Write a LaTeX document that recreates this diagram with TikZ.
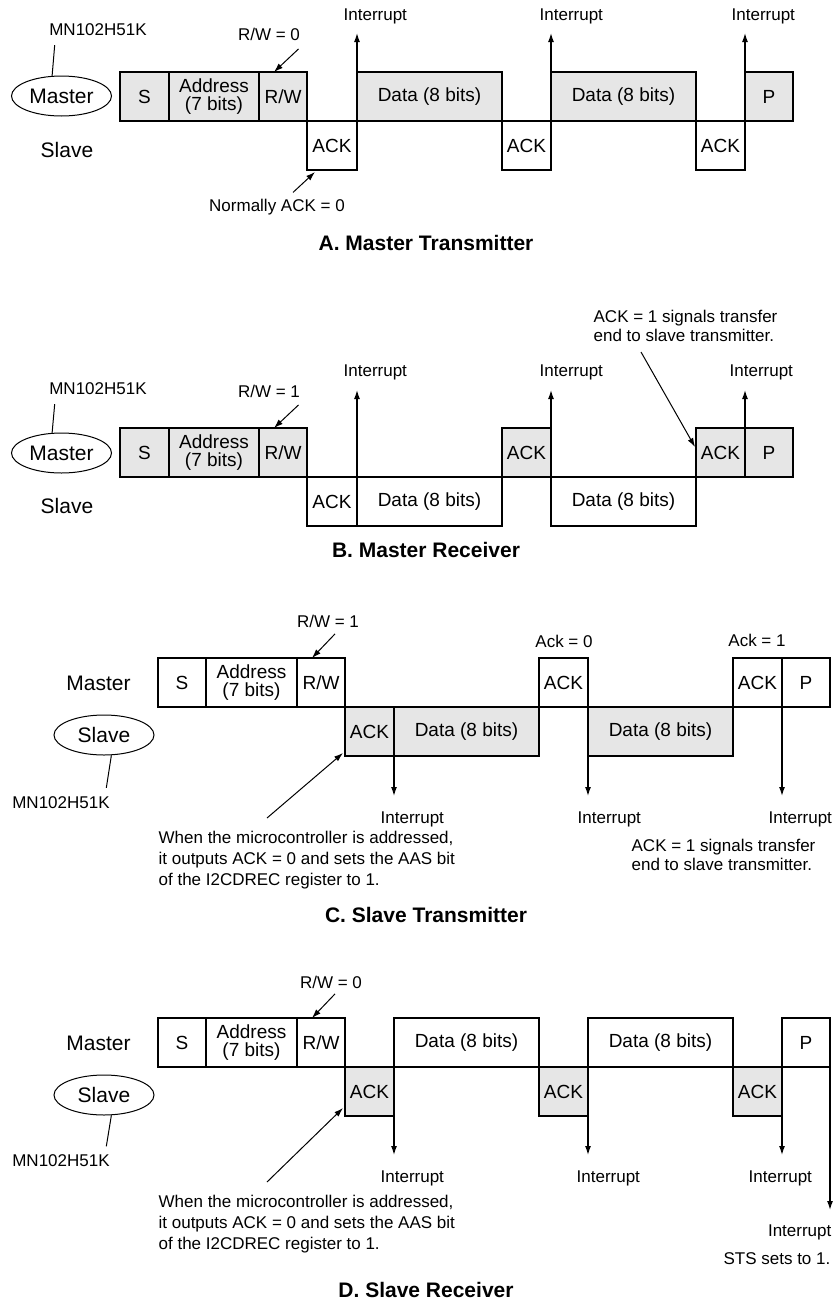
\documentclass[tikz,border=0pt]{standalone}
\usepackage{fontspec}
\setmainfont{Liberation Sans}
\usetikzlibrary{positioning, arrows.meta, shapes.geometric}
\definecolor{cellgray}{RGB}{230,230,230}

\begin{document}
\begin{tikzpicture}[
    x=1pt, y=-1pt,
    line width=1.3pt,
    >={Latex[length=9pt, width=6pt]},
    cell/.style={draw, minimum height=49pt, inner sep=0pt, outer sep=0pt, align=center, font=\fontsize{19}{18}\selectfont},
    gcell/.style={cell, fill=cellgray},
    chip/.style={draw, ellipse, line width=1pt, minimum width=100pt, minimum height=40pt, inner sep=0pt, font=\fontsize{21}{24}\selectfont},
    role/.style={inner sep=0pt, font=\fontsize{21}{24}\selectfont},
    lbl/.style={inner sep=0pt, font=\fontsize{17}{19}\selectfont},
    note/.style={inner sep=0pt, align=left, font=\fontsize{17}{20.7}\selectfont},
    endnote/.style={inner sep=0pt, align=left, font=\fontsize{17}{18.7}\selectfont},
    ttl/.style={inner sep=0pt, font=\bfseries\fontsize{21}{24}\selectfont},
    ptr/.style={->, line width=1pt}
]
\useasboundingbox (0,0) rectangle (838,1304);

% ================= A. Master Transmitter =================

% Frame: master row on top, slave ACKs below
\node[gcell, minimum width=49pt, anchor=north west] (aS) at (120,72) {S};
\node[gcell, minimum width=90pt, right=0pt of aS] (aAddr) {Address\\(7 bits)};
\node[gcell, minimum width=48pt, right=0pt of aAddr] (aRW) {R/W};
\node[cell, minimum width=50pt, below right=0pt of aRW] (aA1) {ACK};
\node[gcell, minimum width=145pt, above right=0pt of aA1] (aD1) {Data (8 bits)};
\node[cell, minimum width=49pt, below right=0pt of aD1] (aA2) {ACK};
\node[gcell, minimum width=145pt, above right=0pt of aA2] (aD2) {Data (8 bits)};
\node[cell, minimum width=49pt, below right=0pt of aD2] (aA3) {ACK};
\node[gcell, minimum width=48pt, above right=0pt of aA3] (aP) {P};

% Roles
\node[chip] (aChip) at (61.5,96) {Master};
\node[lbl] (aMN) at (98,29.5) {MN102H51K};
\node[role] (aSlave) at (67,150) {Slave};

% Labels
\node[lbl] (aR0) at (269,34) {R/W = 0};
\node[lbl] (aN0) at (277,207) {Normally ACK = 0};
\node[lbl, anchor=south west] (aI1) at (343,25) {Interrupt};
\node[lbl, anchor=south west] (aI2) at (539,25) {Interrupt};
\node[lbl, anchor=south west] (aI3) at (731,25) {Interrupt};
\node[ttl] (aTitle) at (426,243) {A. Master Transmitter};

% Edges
\draw[line width=1pt] (aChip.115) -- ([shift={(6pt,-9pt)}]aMN.south west);
\draw[ptr] ([shift={(-2pt,-8pt)}]aR0.south east) -- ([xshift=-9pt]aRW.north);
\draw[ptr] ([shift={(16pt,6pt)}]aN0.north) -- ([shift={(8pt,-2pt)}]aA1.south west);
\draw[->, shorten >=8pt] (aA1.south east) -- (aA1.south east |- aI1.south);
\draw[->, shorten >=8pt] (aA2.south east) -- (aA2.south east |- aI2.south);
\draw[->, shorten >=8pt] (aA3.south east) -- (aA3.south east |- aI3.south);

% ================= B. Master Receiver =================

\node[gcell, minimum width=49pt, anchor=north west] (bS) at (120,428) {S};
\node[gcell, minimum width=90pt, right=0pt of bS] (bAddr) {Address\\(7 bits)};
\node[gcell, minimum width=48pt, right=0pt of bAddr] (bRW) {R/W};
\node[cell, minimum width=50pt, below right=0pt of bRW] (bA1) {ACK};
\node[cell, minimum width=145pt, right=0pt of bA1] (bD1) {Data (8 bits)};
\node[gcell, minimum width=49pt, above right=0pt of bD1] (bK1) {ACK};
\node[cell, minimum width=145pt, below right=0pt of bK1] (bD2) {Data (8 bits)};
\node[gcell, minimum width=49pt, above right=0pt of bD2] (bK2) {ACK};
\node[gcell, minimum width=48pt, right=0pt of bK2] (bP) {P};

% Roles
\node[chip] (bChip) at (61.5,453) {Master};
\node[lbl] (bMN) at (98,388.5) {MN102H51K};
\node[role] (bSlave) at (67,505.5) {Slave};

% Labels
\node[lbl] (bR1) at (269,391) {R/W = 1};
\node[endnote, anchor=north west] (bEnd) at (593,310) {ACK = 1 signals transfer\\end to slave transmitter.};
\node[lbl, anchor=south west] (bI1) at (343,381) {Interrupt};
\node[lbl, anchor=south west] (bI2) at (539,381) {Interrupt};
\node[lbl, anchor=south west] (bI3) at (729,381) {Interrupt};
\node[ttl] (bTitle) at (426,550) {B. Master Receiver};

% Edges
\draw[line width=1pt] (bChip.115) -- ([shift={(6pt,-9pt)}]bMN.south west);
\draw[ptr] ([shift={(-2pt,-7pt)}]bR1.south east) -- ([xshift=-9pt]bRW.north);
\draw[ptr] ([shift={(48pt,-42pt)}]bEnd.north west) -- ([shift={(-1pt,-19pt)}]bK2.north west);
\draw[->, shorten >=9pt] (bA1.south east) -- (bA1.south east |- bI1.south);
\draw[->, shorten >=9pt] (bD2.south west) -- (bD2.south west |- bI2.south);
\draw[->, shorten >=9pt] (bK2.south east) -- (bK2.south east |- bI3.south);

% ================= C. Slave Transmitter =================

\node[cell, minimum width=48pt, anchor=north west] (cS) at (158,658) {S};
\node[cell, minimum width=91pt, right=0pt of cS] (cAddr) {Address\\(7 bits)};
\node[cell, minimum width=48pt, right=0pt of cAddr] (cRW) {R/W};
\node[gcell, minimum width=49pt, below right=0pt of cRW] (cA1) {ACK};
\node[gcell, minimum width=145pt, right=0pt of cA1] (cD1) {Data (8 bits)};
\node[cell, minimum width=49pt, above right=0pt of cD1] (cK1) {ACK};
\node[gcell, minimum width=145pt, below right=0pt of cK1] (cD2) {Data (8 bits)};
\node[cell, minimum width=49pt, above right=0pt of cD2] (cK2) {ACK};
\node[cell, minimum width=48pt, right=0pt of cK2] (cP) {P};

% Roles
\node[role] (cMaster) at (98.5,683.5) {Master};
\node[chip] (cChip) at (104,735) {Slave};
\node[lbl] (cMN) at (61,802.5) {MN102H51K};

% Labels
\node[lbl] (cR1) at (328,621) {R/W = 1};
\node[lbl] (cAck0) at (564,641) {Ack = 0};
\node[lbl] (cAck1) at (757,640) {Ack = 1};
\node[lbl, anchor=north west] (cI1) at (380,811) {Interrupt};
\node[lbl, anchor=north west] (cI2) at (577,811) {Interrupt};
\node[lbl, anchor=north west] (cI3) at (768,811) {Interrupt};
\node[note, anchor=north west] (cWhen) at (158,831) {When the microcontroller is addressed,\\it outputs ACK = 0 and sets the AAS bit\\of the I2CDREC register to 1.};
\node[endnote, anchor=north west] (cEnd) at (631,839) {ACK = 1 signals transfer\\end to slave transmitter.};
\node[ttl] (cTitle) at (426,915) {C. Slave Transmitter};

% Edges
\draw[line width=1pt] (cChip.-70) -- ([shift={(-4pt,8pt)}]cMN.north east);
\draw[ptr] ([shift={(7pt,-6pt)}]cR1.south) -- ([xshift=-9pt]cRW.north);
\draw[ptr] ([shift={(109pt,13pt)}]cWhen.north west) -- ([shift={(-2pt,3pt)}]cA1.south west);
\draw[->, shorten >=15pt] (cA1.north east) -- (cA1.north east |- cI1.north);
\draw[->, shorten >=15pt] (cK1.north east) -- (cK1.north east |- cI2.north);
\draw[->, shorten >=15pt] (cK2.north east) -- (cK2.north east |- cI3.north);

% ================= D. Slave Receiver =================

\node[cell, minimum width=48pt, anchor=north west] (dS) at (158,1018) {S};
\node[cell, minimum width=91pt, right=0pt of dS] (dAddr) {Address\\(7 bits)};
\node[cell, minimum width=48pt, right=0pt of dAddr] (dRW) {R/W};
\node[gcell, minimum width=49pt, below right=0pt of dRW] (dA1) {ACK};
\node[cell, minimum width=145pt, above right=0pt of dA1] (dD1) {Data (8 bits)};
\node[gcell, minimum width=49pt, below right=0pt of dD1] (dA2) {ACK};
\node[cell, minimum width=145pt, above right=0pt of dA2] (dD2) {Data (8 bits)};
\node[gcell, minimum width=49pt, below right=0pt of dD2] (dA3) {ACK};
\node[cell, minimum width=48pt, above right=0pt of dA3] (dP) {P};

% Roles
\node[role] (dMaster) at (98.5,1043.5) {Master};
\node[chip] (dChip) at (104,1095) {Slave};
\node[lbl] (dMN) at (61,1161) {MN102H51K};

% Labels
\node[lbl] (dR0) at (331,982) {R/W = 0};
\node[lbl, anchor=north west] (dI1) at (380,1170) {Interrupt};
\node[lbl, anchor=north west] (dI2) at (576,1170) {Interrupt};
\node[lbl, anchor=north west] (dI3) at (748,1170) {Interrupt};
\node[lbl, anchor=north east] (dI4) at (832,1224) {Interrupt};
\node[lbl, anchor=north east] (dSts) at (831,1252) {STS sets to 1.};
\node[note, anchor=north west] (dWhen) at (158,1195) {When the microcontroller is addressed,\\it outputs ACK = 0 and sets the AAS bit\\of the I2CDREC register to 1.};
\node[ttl] (dTitle) at (426,1290) {D. Slave Receiver};

% Edges
\draw[line width=1pt] (dChip.-70) -- ([shift={(-4pt,8pt)}]dMN.north east);
\draw[ptr] ([shift={(4pt,-5pt)}]dR0.south) -- ([xshift=-9pt]dRW.north);
\draw[ptr] ([shift={(109pt,13pt)}]dWhen.north west) -- ([shift={(-2pt,8pt)}]dA1.south west);
\draw[->, shorten >=15pt] (dA1.north east) -- (dA1.north east |- dI1.north);
\draw[->, shorten >=15pt] (dA2.north east) -- (dA2.north east |- dI2.north);
\draw[->, shorten >=15pt] (dA3.north east) -- (dA3.north east |- dI3.north);
\draw[->, shorten >=14pt] (dP.north east) -- (dP.north east |- dI4.north);

\end{tikzpicture}
\end{document}
